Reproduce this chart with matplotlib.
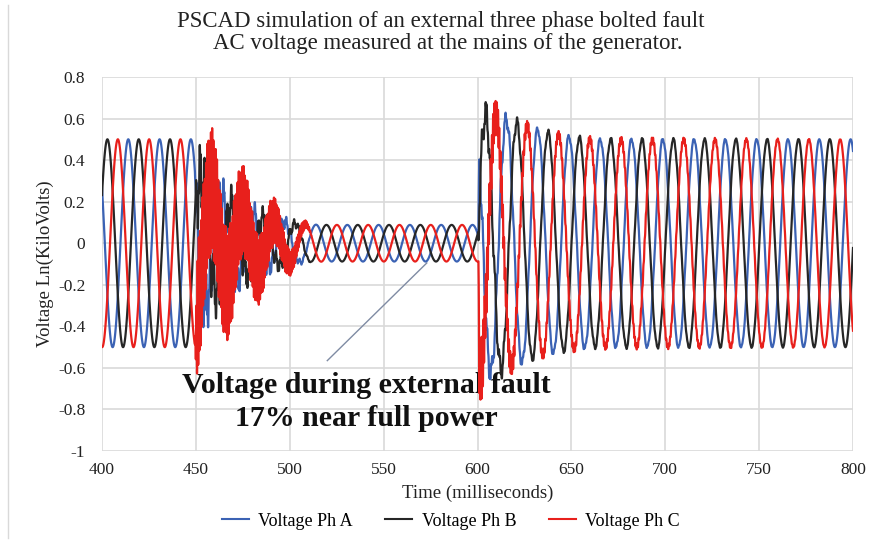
import numpy as np
import matplotlib
matplotlib.use("Agg")
import matplotlib.pyplot as plt
from matplotlib.lines import Line2D

# ---------------- data ----------------
title_lines = ["PSCAD simulation of an external three phase bolted fault",
               "AC voltage measured at the mains of the generator."]
x_label = "Time (milliseconds)"
y_label = "Voltage Ln(KiloVolts)"
series_names = ["Voltage Ph A", "Voltage Ph B", "Voltage Ph C"]
series_colors = ["#3B62B4", "#262626", "#E8201C"]

x_ticks = [400, 450, 500, 550, 600, 650, 700, 750, 800]
y_ticks = [0.8, 0.6, 0.4, 0.2, 0, -0.2, -0.4, -0.6, -0.8, -1]
y_tick_labels = ["0.8", "0.6", "0.4", "0.2", "0", "-0.2", "-0.4", "-0.6", "-0.8", "-1"]

system_freq_hz = 60.0
# time (ms) of a phase-A positive peak, before and after the fault
phaseA_peak_pre_ms = 414.0
phaseA_peak_post_ms = 765.4
fault_on_ms = 449.5
fault_clear_ms = 600.5

# fundamental amplitude envelope (kV)
env_t = [400, 449.5, 452, 460, 470, 480, 490, 500, 510, 520, 600.5, 601, 608, 615, 625, 635, 648, 662, 800]
env_v = [0.50, 0.50, 0.30, 0.24, 0.18, 0.14, 0.11, 0.095, 0.09, 0.088, 0.088, 0.62, 0.62, 0.60, 0.57, 0.54, 0.515, 0.50, 0.50]

# high-frequency transient (ripple) envelope per phase (kV)
rip_t = [400, 449.5, 451, 460, 470, 480, 490, 500, 512, 600.5, 601, 610, 620, 630, 800]
rip_A = [0, 0, 0.20, 0.13, 0.09, 0.07, 0.05, 0.03, 0, 0, 0.08, 0.05, 0.03, 0.015, 0]
rip_B = [0, 0, 0.22, 0.14, 0.10, 0.07, 0.05, 0.03, 0, 0, 0.09, 0.06, 0.03, 0.015, 0]
rip_C = [0, 0, 0.30, 0.29, 0.24, 0.18, 0.12, 0.06, 0, 0, 0.16, 0.08, 0.04, 0.02, 0]
ripple_freqs_hz = [420.0, 1550.0]

# annotation
note_line1 = "Voltage during external fault"
note_line2 = "17% near full power"
pointer_x = [520, 573]
pointer_y = [-0.565, -0.095]

# ---------------- build waveforms ----------------
t = np.arange(400.0, 800.0 + 1e-9, 0.01)
env = np.interp(t, env_t, env_v)
ref = np.where(t < fault_clear_ms, phaseA_peak_pre_ms, phaseA_peak_post_ms)
w = 2 * np.pi * system_freq_hz / 1000.0
shifts = [0.0, -2 * np.pi / 3, 2 * np.pi / 3]
ripples = [rip_A, rip_B, rip_C]
rip_phase = [0.3, 1.9, 4.1]
rip_mix = [(0.75, 0.25), (0.75, 0.25), (0.1, 0.95)]

waves = []
for k in range(3):
    base = env * np.cos(w * (t - ref) + shifts[k])
    r_env = np.interp(t, rip_t, ripples[k])
    comp = sum(m * np.sin(2 * np.pi * f / 1000.0 * t + (j + 1) * rip_phase[k])
               for j, (m, f) in enumerate(zip(rip_mix[k], ripple_freqs_hz)))
    waves.append(base + r_env * comp)

# ---------------- draw ----------------
plt.rcParams["font.family"] = ["Liberation Serif", "DejaVu Serif"]
plt.rcParams["path.simplify"] = False
fig = plt.figure(figsize=(8.77, 5.43), dpi=100)
ax = fig.add_axes([102 / 877, 1 - 451 / 543, (853 - 102) / 877, (451 - 77) / 543])

for k in range(3):
    ax.plot(t, waves[k], color=series_colors[k], lw=1.6, zorder=3 + k)

ax.plot(pointer_x, pointer_y, color="#7F8BA3", lw=1.0, zorder=2)
ax.text(540.6, -0.684, note_line1, ha="center", va="center", fontsize=21.5,
        fontweight="bold", color="#111111", zorder=2)
ax.text(540.6, -0.843, note_line2, ha="center", va="center", fontsize=21.5,
        fontweight="bold", color="#111111", zorder=2)

ax.set_xlim(400, 800)
ax.set_ylim(-1, 0.8)
ax.set_xticks(x_ticks)
ax.set_yticks(y_ticks)
ax.set_yticklabels(y_tick_labels)
ax.grid(True, color="#D9D9D9", lw=1.2, zorder=0)
ax.set_axisbelow(True)
for s in ax.spines.values():
    s.set_visible(False)
ax.tick_params(length=0, labelsize=12.5, colors="#222222")
ax.tick_params(axis="y", pad=12)
ax.tick_params(axis="x", pad=8)
ax.set_xlabel(x_label, fontsize=13.5, labelpad=5, color="#222222")
ax.set_ylabel(y_label, fontsize=13.5, labelpad=3, color="#222222")

fig.text(0.503, 1 - 21 / 543, title_lines[0], ha="center", va="center", fontsize=16.5, color="#222222")
fig.text(0.511, 1 - 44 / 543, title_lines[1], ha="center", va="center", fontsize=16.5, color="#222222")

handles = [Line2D([0], [0], color=c, lw=1.5) for c in series_colors]
fig.legend(handles, series_names, loc="center", bbox_to_anchor=(0.514, 1 - 521 / 543),
           ncol=3, frameon=False, fontsize=13, handlelength=1.5, columnspacing=1.8,
           handletextpad=0.5)

fig.add_artist(Line2D([8 / 877, 8 / 877], [0.01, 0.99], color="#D9D9D9", lw=1.0))

fig.savefig("out.png", dpi=100, facecolor="white")
